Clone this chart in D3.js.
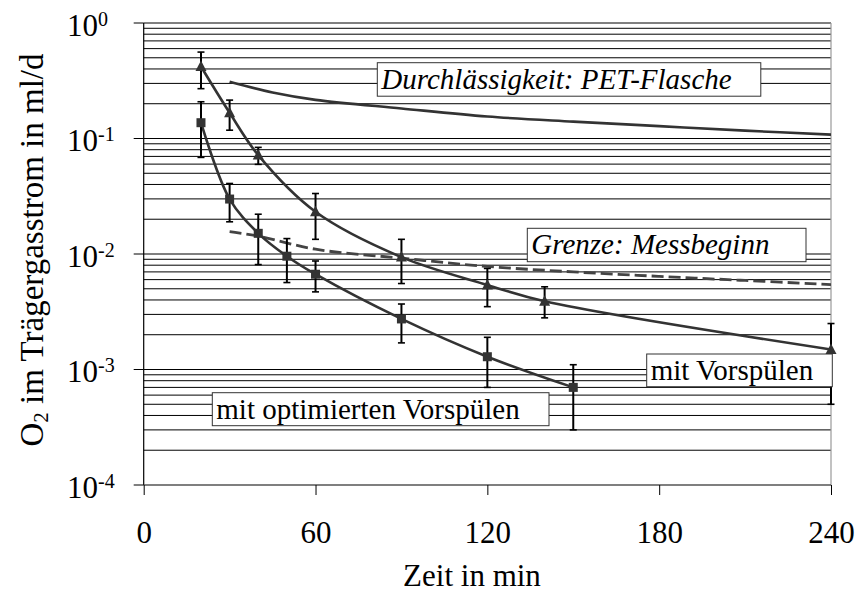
<!DOCTYPE html>
<html><head><meta charset="utf-8">
<script src="https://cdn.jsdelivr.net/npm/d3@7"></script>
<style>
html,body{margin:0;padding:0;background:#fff;}
svg{display:block;}
</style></head>
<body>
<svg id="chart" width="859" height="593"></svg>
<script>
// ---- data ----
const xTicks = [0, 60, 120, 180, 240];
const yExponents = [0, -1, -2, -3, -4];

// mit Vorspülen (triangles)
const vorX   = [20, 30, 40, 60, 90, 120, 140, 240];
const vorY   = [0.42, 0.167, 0.0718, 0.0232, 0.0094, 0.0054, 0.0039, 0.00149];
const vorHi  = [0.56, 0.215, 0.0838, 0.0334, 0.0134, 0.0075, 0.0052, 0.0025];
const vorLo  = [0.27, 0.118, 0.0597, 0.0134, 0.00555, 0.0035, 0.0028, 0.0005];

// mit optimierten Vorspülen (squares)
const optX   = [20, 30, 40, 50, 60, 90, 120, 150];
const optY   = [0.137, 0.0299, 0.0151, 0.00957, 0.00668, 0.00274, 0.00129, 0.0007];
const optHi  = [0.208, 0.0408, 0.0221, 0.0136, 0.0087, 0.00369, 0.0019, 0.0011];
const optLo  = [0.0686, 0.019, 0.0081, 0.00566, 0.0047, 0.0017, 0.0007, 0.0003];

// Durchlässigkeit: PET-Flasche (solid line)
const petX = [30, 45, 60, 90, 120, 150, 180, 210, 240];
const petY = [0.31, 0.25, 0.216, 0.182, 0.155, 0.14, 0.128, 0.117, 0.108];

// Grenze: Messbeginn (dashed line)
const grzX = [30, 40, 60, 90, 120, 150, 180, 210, 240];
const grzY = [0.0156, 0.0143, 0.011, 0.0092, 0.0078, 0.007, 0.0064, 0.0059, 0.00544];

const labels = ["Durchlässigkeit: PET-Flasche", "Grenze: Messbeginn", "mit Vorspülen", "mit optimierten Vorspülen"];

// ---- layout ----
const FONT = '"Liberation Serif", "Times New Roman", Times, "DejaVu Serif", serif';
const L = 143.7, R = 831, T = 23, B = 485;
const svg = d3.select("#chart");
const x = d3.scaleLinear().domain([0, 240]).range([L, R]);
const y = d3.scaleLog().domain([1e-4, 1]).range([B, T]);
const ink = "#333";

// gridlines
const gridVals = [];
for (let k = -4; k <= -1; k++) for (let m = 1; m <= 9; m++) gridVals.push(m * Math.pow(10, k));
gridVals.push(1);
svg.append("g").selectAll("line").data(gridVals.filter(v => v > 1e-4)).join("line")
  .attr("x1", L).attr("x2", R)
  .attr("y1", d => y(d)).attr("y2", d => y(d))
  .attr("stroke", "#000").attr("stroke-width", 1);

// right border
svg.append("line").attr("x1", R).attr("x2", R).attr("y1", T).attr("y2", B)
  .attr("stroke", "#999").attr("stroke-width", 1.2);

// lines
const line = d3.line().x(d => x(d[0])).y(d => y(d[1]));
svg.append("path").datum(d3.zip(petX, petY))
  .attr("d", line.curve(d3.curveCatmullRom)).attr("fill", "none")
  .attr("stroke", ink).attr("stroke-width", 2.6);
svg.append("path").datum(d3.zip(grzX, grzY))
  .attr("d", line.curve(d3.curveCatmullRom)).attr("fill", "none")
  .attr("stroke", "#444").attr("stroke-width", 2.8).attr("stroke-dasharray", "12,5");
svg.append("path").datum(d3.zip(vorX, vorY))
  .attr("d", line.curve(d3.curveCatmullRom)).attr("fill", "none")
  .attr("stroke", ink).attr("stroke-width", 2.6);
svg.append("path").datum(d3.zip(optX, optY))
  .attr("d", line.curve(d3.curveCatmullRom)).attr("fill", "none")
  .attr("stroke", ink).attr("stroke-width", 2.6);

// error bars
function errBars(xs, hi, lo) {
  const g = svg.append("g").attr("stroke", "#000");
  const d = xs.map((v, i) => [v, hi[i], lo[i]]);
  g.selectAll(".v").data(d).join("line")
    .attr("x1", e => x(e[0])).attr("x2", e => x(e[0]))
    .attr("y1", e => y(e[1])).attr("y2", e => y(e[2])).attr("stroke-width", 2);
  g.selectAll(".t").data(d).join("line")
    .attr("x1", e => x(e[0]) - 3.5).attr("x2", e => x(e[0]) + 3.5)
    .attr("y1", e => y(e[1])).attr("y2", e => y(e[1])).attr("stroke-width", 1.6);
  g.selectAll(".b").data(d).join("line")
    .attr("x1", e => x(e[0]) - 3.5).attr("x2", e => x(e[0]) + 3.5)
    .attr("y1", e => y(e[2])).attr("y2", e => y(e[2])).attr("stroke-width", 1.6);
}
errBars(vorX, vorHi, vorLo);
errBars(optX, optHi, optLo);

// markers
svg.append("g").selectAll("path").data(d3.zip(vorX, vorY)).join("path")
  .attr("transform", d => `translate(${x(d[0])},${y(d[1])})`)
  .attr("d", "M0,-6 L5.5,4.5 L-5.5,4.5 Z").attr("fill", ink);
svg.append("g").selectAll("rect").data(d3.zip(optX, optY)).join("rect")
  .attr("x", d => x(d[0]) - 4.5).attr("y", d => y(d[1]) - 4.5)
  .attr("width", 9).attr("height", 9).attr("fill", ink);

// label boxes
const boxes = [
  {t: labels[0], x: 377.3, y: 62.7, w: 383.5, h: 33.5, italic: true},
  {t: labels[1], x: 527.3, y: 228.3, w: 278.7, h: 33.4, italic: true},
  {t: labels[2], x: 646.7, y: 354, w: 185.6, h: 32.7, italic: false},
  {t: labels[3], x: 212.3, y: 392.7, w: 336.7, h: 33, italic: false}
];
const bg = svg.append("g").selectAll("g").data(boxes).join("g");
bg.append("rect").attr("x", d => d.x).attr("y", d => d.y).attr("width", d => d.w).attr("height", d => d.h)
  .attr("fill", "#fff").attr("stroke", "#333").attr("stroke-width", 1);
bg.append("text").attr("x", d => d.x + 4).attr("y", d => d.y + 26)
  .attr("font-family", FONT).attr("fill", "#000")
  .attr("font-size", 29).attr("font-style", d => d.italic ? "italic" : "normal").text(d => d.t);

// axes
svg.append("line").attr("x1", L).attr("x2", L).attr("y1", T).attr("y2", B)
  .attr("stroke", "#000").attr("stroke-width", 1.2);
svg.append("line").attr("x1", L).attr("x2", R).attr("y1", B).attr("y2", B)
  .attr("stroke", "#555").attr("stroke-width", 1.6);
const xa = svg.append("g").attr("transform", `translate(0,${B})`)
  .call(d3.axisBottom(x).tickValues(xTicks).tickSize(10).tickFormat(d3.format("d")));
xa.attr("font-family", FONT);
xa.select(".domain").remove();
xa.selectAll("line").attr("stroke", "#000");
xa.selectAll("text").attr("font-size", 31).attr("dy", null).attr("y", 58)
  .attr("font-family", FONT).attr("fill", "#000");

// y ticks
svg.append("g").selectAll("line").data(yExponents).join("line")
  .attr("x1", L - 10).attr("x2", L).attr("y1", d => y(Math.pow(10, d))).attr("y2", d => y(Math.pow(10, d)))
  .attr("stroke", "#000").attr("stroke-width", 1);
const yl = svg.append("g").selectAll("text").data(yExponents).join("text")
  .attr("font-family", FONT).attr("fill", "#000")
  .attr("x", 67).attr("y", d => y(Math.pow(10, d)) + 12.5).attr("font-size", 31);
yl.append("tspan").text("10");
yl.append("tspan").attr("font-size", 20).attr("dy", -10).text(d => d === 0 ? "0" : "-" + (-d));

// axis titles
svg.append("text").attr("x", 472).attr("y", 586).attr("text-anchor", "middle")
  .attr("font-family", FONT).attr("fill", "#000")
  .attr("font-size", 31).text("Zeit in min");
const yt = svg.append("text").attr("transform", "translate(43,250) rotate(-90)")
  .attr("font-family", FONT).attr("fill", "#000")
  .attr("text-anchor", "middle").attr("font-size", 33);
yt.append("tspan").text("O");
yt.append("tspan").attr("font-size", 21).attr("dy", 5).text("2");
yt.append("tspan").attr("dy", -5).text(" im Trägergasstrom in ml/d");
</script>
</body></html>
